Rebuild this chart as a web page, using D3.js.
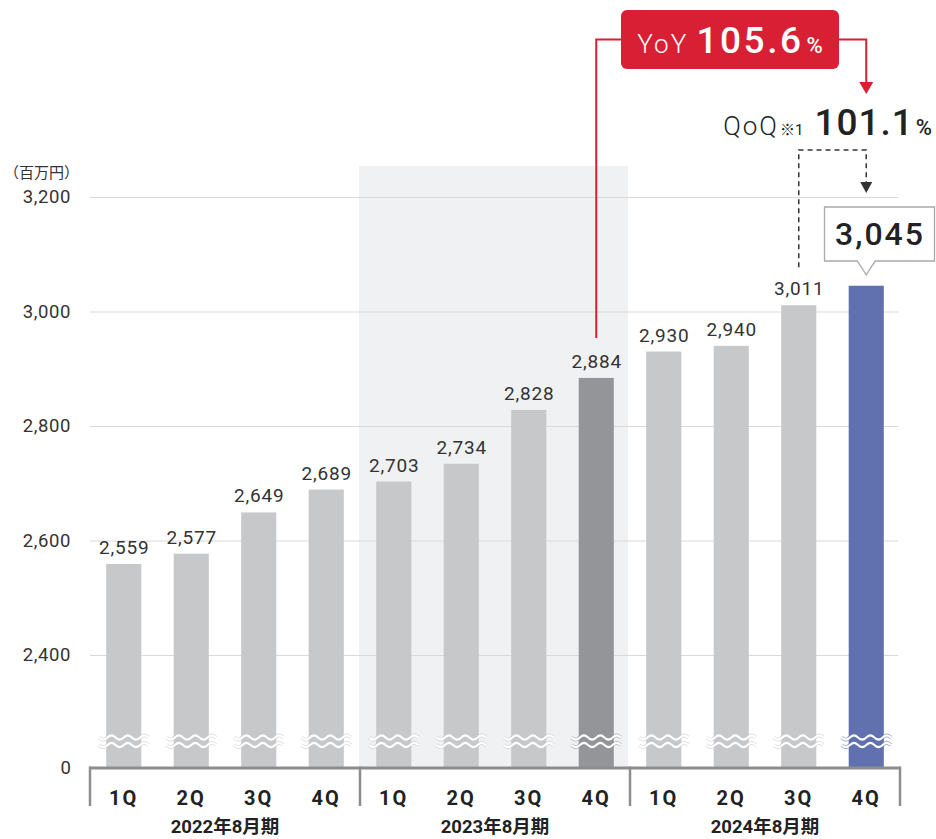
<!DOCTYPE html>
<html>
<head>
<meta charset="utf-8">
<script src="https://cdn.jsdelivr.net/npm/d3@7"></script>
<style>
  html, body { margin: 0; padding: 0; background: #fff; }
  svg { display: block; font-family: Roboto, "Noto Sans CJK JP", sans-serif; }
</style>
</head>
<body>
<svg id="chart" width="936" height="839"></svg>
<script>
// Quarterly revenue (million yen), fiscal years ending August
const quarters = ["1Q", "2Q", "3Q", "4Q"];
const fiscalYears = ["2022年8月期", "2023年8月期", "2024年8月期"];
const revenue = [2559, 2577, 2649, 2689, 2703, 2734, 2828, 2884, 2930, 2940, 3011, 3045];
const yTicks = [2400, 2600, 2800, 3000, 3200];
const yoyRate = "105.6";
const qoqRate = "101.1";
const unitLabel = "（百万円）";

const svg = d3.select("#chart");
const fmt = d3.format(",");

const left = 90, right = 900;
const baseY = 768;          // axis position (zero, below the break)

const keys = d3.range(revenue.length);
const x = d3.scaleBand().domain(keys).range([left, right])
  .paddingInner(0.48).paddingOuter(0.24);
const y = d3.scaleLinear().domain([2400, 3200]).range([655, 197]);
const groupW = (right - left) / fiscalYears.length;

const colGrey = "#c7c8ca", colPrev = "#939598", colCur = "#6170ae", colRed = "#d91f33";
const barColor = i => i === revenue.length - 1 ? colCur : (i === 7 ? colPrev : colGrey);

// highlighted previous fiscal year band
svg.append("rect")
  .attr("x", left + groupW - 1).attr("y", 166)
  .attr("width", groupW - 1).attr("height", baseY - 166)
  .attr("fill", "#f0f1f3");

// gridlines + y labels
const yAxis = d3.axisLeft(y).tickValues(yTicks).tickFormat(fmt)
  .tickSize(-(right - 2 - left)).tickPadding(19);
const gy = svg.append("g").attr("transform", `translate(${left},0)`).call(yAxis);
gy.select(".domain").remove();
gy.selectAll(".tick line").attr("stroke", "#d9d9d9").attr("stroke-width", 1.2);
gy.selectAll(".tick text")
  .attr("font-size", 18.5).attr("fill", "#333").attr("letter-spacing", 0.6)
  .attr("font-family", "Roboto, sans-serif");

// broken-axis zero label
svg.append("text").attr("x", 71).attr("y", baseY).attr("dy", "0.35em")
  .attr("text-anchor", "end").attr("font-size", 18.5).attr("fill", "#333")
  .text("0");

svg.append("text").attr("x", 4).attr("y", 178)
  .attr("font-size", 15).attr("fill", "#333").text(unitLabel);

// bars
svg.append("g").selectAll("rect").data(keys).join("rect")
  .attr("x", i => x(i)).attr("width", x.bandwidth())
  .attr("y", i => y(revenue[i])).attr("height", i => baseY - y(revenue[i]))
  .attr("fill", barColor);

// break marks (wavy double line)
const waveLine = d3.line().curve(d3.curveBasis);
function wave(x0, w, yc) {
  const pts = [];
  const n = 24;
  for (let k = 0; k <= n; k++) {
    const t = k / n;
    pts.push([x0 + t * w, yc + 2.4 * Math.sin(t * Math.PI * 6)]);
  }
  return waveLine(pts);
}
const breaks = svg.append("g");
keys.forEach(i => {
  const bx = x(i) - 7, bw = x.bandwidth() + 14;
  [737.5, 745].forEach(yc => {
    breaks.append("path").attr("d", wave(bx, bw, yc))
      .attr("fill", "none").attr("stroke", barColor(i)).attr("stroke-width", 3.6).attr("opacity", 0.7);
    breaks.append("path").attr("d", wave(bx, bw, yc))
      .attr("fill", "none").attr("stroke", "#fff").attr("stroke-width", 2.2);
  });
});

// value labels (last bar gets a callout)
svg.append("g").selectAll("text").data(keys.slice(0, -1)).join("text")
  .attr("x", i => x(i) + x.bandwidth() / 2 + 0.5)
  .attr("y", i => y(revenue[i]) - 10)
  .attr("text-anchor", "middle").attr("font-size", 19).attr("letter-spacing", 0.8)
  .attr("fill", "#333")
  .text(i => fmt(revenue[i]));

// x axis frame
const axisCol = "#8d8d8f";
svg.append("line").attr("x1", left).attr("x2", right).attr("y1", baseY).attr("y2", baseY)
  .attr("stroke", axisCol).attr("stroke-width", 3);
d3.range(fiscalYears.length + 1).forEach(g => {
  const gx = left + g * groupW;
  svg.append("line").attr("x1", gx).attr("x2", gx).attr("y1", baseY - 1.5).attr("y2", 806)
    .attr("stroke", axisCol).attr("stroke-width", 2.5);
});

svg.append("g").selectAll("text").data(keys).join("text")
  .attr("x", i => x(i) + x.bandwidth() / 2)
  .attr("y", 805)
  .attr("text-anchor", "middle").attr("font-size", 20).attr("font-weight", 700)
  .attr("letter-spacing", 2).attr("fill", "#222")
  .text(i => quarters[i % 4]);

svg.append("g").selectAll("text").data(fiscalYears).join("text")
  .attr("x", (d, g) => left + groupW * (g + 0.5))
  .attr("y", 833)
  .attr("text-anchor", "middle").attr("font-size", 18.5).attr("font-weight", 700)
  .attr("fill", "#222")
  .text(d => d);

// YoY connector
const prevX = x(7) + x.bandwidth() / 2;
const curX = x(11) + x.bandwidth() / 2;
const qX = x(10) + x.bandwidth() / 2;
svg.append("path")
  .attr("d", `M${prevX},${y(revenue[7]) - 40}V39.5H625M835,39.5H${curX}V84`)
  .attr("fill", "none").attr("stroke", colRed).attr("stroke-width", 2);
svg.append("path")
  .attr("d", `M${curX - 7},82L${curX + 7},82L${curX},94Z`).attr("fill", colRed);

svg.append("rect").attr("x", 621).attr("y", 10).attr("width", 218).attr("height", 59)
  .attr("rx", 6).attr("fill", colRed);
const yoyText = svg.append("text").attr("x", 730).attr("y", 53)
  .attr("text-anchor", "middle").attr("fill", "#fff");
yoyText.append("tspan").attr("font-size", 26).attr("font-weight", 300).attr("letter-spacing", 2).text("YoY ");
yoyText.append("tspan").attr("font-size", 37).attr("font-weight", 500).attr("letter-spacing", 2.5).text(yoyRate);
yoyText.append("tspan").attr("font-size", 22).attr("font-weight", 500).attr("dx", 3).text("%");

// QoQ connector (dashed)
svg.append("path")
  .attr("d", `M${qX},${y(revenue[10]) - 38}V150H${curX}V183`)
  .attr("fill", "none").attr("stroke", "#333").attr("stroke-width", 1.5)
  .attr("stroke-dasharray", "5,4");
svg.append("path")
  .attr("d", `M${curX - 6},182L${curX + 6},182L${curX},193Z`).attr("fill", "#333");

const qoqText = svg.append("text").attr("x", 932).attr("y", 135)
  .attr("text-anchor", "end").attr("fill", "#222");
qoqText.append("tspan").attr("font-size", 26).attr("font-weight", 300).attr("letter-spacing", 2).text("QoQ");
qoqText.append("tspan").attr("font-size", 15).attr("dx", 1).text("※1");
qoqText.append("tspan").attr("font-size", 37).attr("font-weight", 500).attr("dx", 11).attr("letter-spacing", 1).text(qoqRate);
qoqText.append("tspan").attr("font-size", 22).attr("font-weight", 500).attr("dx", 2).text("%");

// callout for the latest quarter
const cTop = 207, cBot = 261, tipY = y(revenue[11]) - 11;
svg.append("path")
  .attr("d", `M824.5,${cTop}H934.5V${cBot}H${curX + 9}L${curX},${tipY}L${curX - 9},${cBot}H824.5Z`)
  .attr("fill", "#fff").attr("stroke", "#a9a9ab").attr("stroke-width", 1.3);
svg.append("text").attr("x", 880).attr("y", 245)
  .attr("text-anchor", "middle").attr("font-size", 32).attr("font-weight", 500)
  .attr("letter-spacing", 2).attr("fill", "#222")
  .text(fmt(revenue[11]));
</script>
</body>
</html>
